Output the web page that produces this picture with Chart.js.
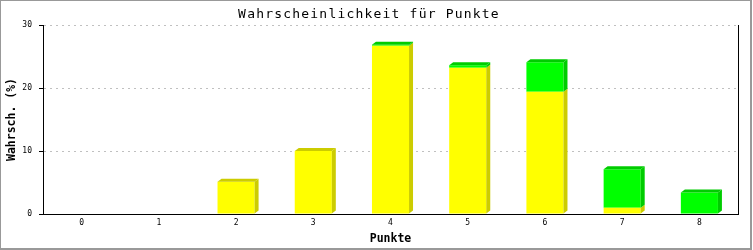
<!DOCTYPE html>
<html><head><meta charset="utf-8">
<script src="https://cdn.jsdelivr.net/npm/chart.js"></script>
<style>html,body{margin:0;padding:0;background:#fff}canvas{display:block}</style>
</head><body>
<canvas id="c" width="753" height="250"></canvas>
<script>
const categories = ['0','1','2','3','4','5','6','7','8'];
const yellowValues = [0, 0, 5.1, 10.0, 26.7, 23.2, 19.4, 1.0, 0];
const greenValues  = [0, 0, 0, 0, 0.15, 0.4, 4.7, 6.1, 3.4];
const yTicks = [0, 10, 20, 30];
const titleText = 'Wahrscheinlichkeit für Punkte';
const xTitle = 'Punkte';
const yTitle = 'Wahrsch. (%)';
const frontColors = ['#ffff00', '#00ff00'];
const sideColors = ['#cccc00', '#00cc00'];
const MONO = '"DejaVu Sans Mono", "Liberation Mono", monospace';

const bar3d = {
  id: 'bar3d',
  afterDatasetsDraw(chart) {
    const ctx = chart.ctx; const dx = 4, dy = 3;
    const sets = chart.data.datasets;
    for (let j = 0; j < categories.length; j++) {
      let topDs = -1;
      sets.forEach((d, i) => { if (d.data[j] > 0) topDs = i; });
      sets.forEach((d, i) => {
        if (!(d.data[j] > 0)) return;
        const el = chart.getDatasetMeta(i).data[j];
        const p = el.getProps(['x', 'y', 'base', 'width'], true);
        const xl = p.x - p.width / 2, xr = p.x + p.width / 2;
        ctx.save();
        ctx.fillStyle = sideColors[i];
        ctx.beginPath();
        ctx.moveTo(xr, p.y); ctx.lineTo(xr + dx, p.y - dy);
        ctx.lineTo(xr + dx, p.base - dy); ctx.lineTo(xr, p.base);
        ctx.closePath(); ctx.fill();
        if (i === topDs) {
          ctx.beginPath();
          ctx.moveTo(xl, p.y); ctx.lineTo(xl + dx, p.y - dy);
          ctx.lineTo(xr + dx, p.y - dy); ctx.lineTo(xr, p.y);
          ctx.closePath(); ctx.fill();
        }
        ctx.restore();
      });
    }
  }
};

const frame = {
  id: 'frame',
  beforeDraw(chart) {
    const ctx = chart.ctx;
    ctx.save(); ctx.fillStyle = '#fff'; ctx.fillRect(0, 0, chart.width, chart.height); ctx.restore();
    const tb = chart.titleBlock;
    if (tb && !tb._ls) {
      const orig = tb.draw.bind(tb);
      tb.draw = function (a) { chart.ctx.save(); chart.ctx.letterSpacing = '1.2px'; orig(a); chart.ctx.restore(); };
      tb._ls = true;
    }
  },
  afterDraw(chart) {
    const ctx = chart.ctx, a = chart.chartArea;
    ctx.save();
    ctx.strokeStyle = '#000'; ctx.lineWidth = 1;
    ctx.beginPath(); ctx.moveTo(a.right + 0.5, a.top); ctx.lineTo(a.right + 0.5, a.bottom + 0.5); ctx.stroke();
    ctx.strokeStyle = '#999'; ctx.lineWidth = 2;
    ctx.strokeRect(0, 0, 751, 249);
    ctx.restore();
  }
};

new Chart(document.getElementById('c'), {
  type: 'bar',
  data: {
    labels: categories,
    datasets: [
      { data: yellowValues, backgroundColor: frontColors[0], borderWidth: 0 },
      { data: greenValues, backgroundColor: frontColors[1], borderWidth: 0 }
    ]
  },
  options: {
    responsive: false,
    devicePixelRatio: 1,
    animation: false,
    categoryPercentage: 1,
    barPercentage: 0.48,
    layout: { padding: { left: 0, right: 15, top: 0, bottom: 0 } },
    plugins: {
      legend: { display: false },
      tooltip: { enabled: false },
      title: {
        display: true, text: titleText, color: '#000',
        font: { family: MONO, size: 13, weight: 'normal', lineHeight: 14 / 13 },
        padding: { top: 8, bottom: 3 }
      }
    },
    scales: {
      x: {
        stacked: true,
        offset: true,
        grid: { display: false, drawTicks: false },
        border: { color: '#000', width: 1 },
        ticks: { color: '#000', font: { family: MONO, size: 8 }, padding: 4, maxRotation: 0, autoSkip: false },
        title: { display: true, text: xTitle, color: '#000', font: { family: MONO, size: 11.5, weight: 'bold' }, padding: { top: 0, bottom: 4 } },
        afterFit(s) { s.height = 36; }
      },
      y: {
        stacked: true,
        min: 0, max: 30,
        afterBuildTicks(s) { s.ticks = yTicks.map(v => ({ value: v })); },
        grid: { color: '#c0c0c0', lineWidth: 1, tickLength: 4, tickColor: '#000', tickBorderDash: [] },
        border: { color: '#000', width: 1, dash: [2, 4] },
        ticks: { color: '#000', font: { family: MONO, size: 8 }, padding: 7 },
        title: { display: true, text: yTitle, color: '#000', font: { family: MONO, size: 11.5, weight: 'bold' }, padding: { top: 5, bottom: 0 } },
        afterFit(s) { s.width = 43; }
      }
    }
  },
  plugins: [bar3d, frame]
});
</script>
</body></html>
